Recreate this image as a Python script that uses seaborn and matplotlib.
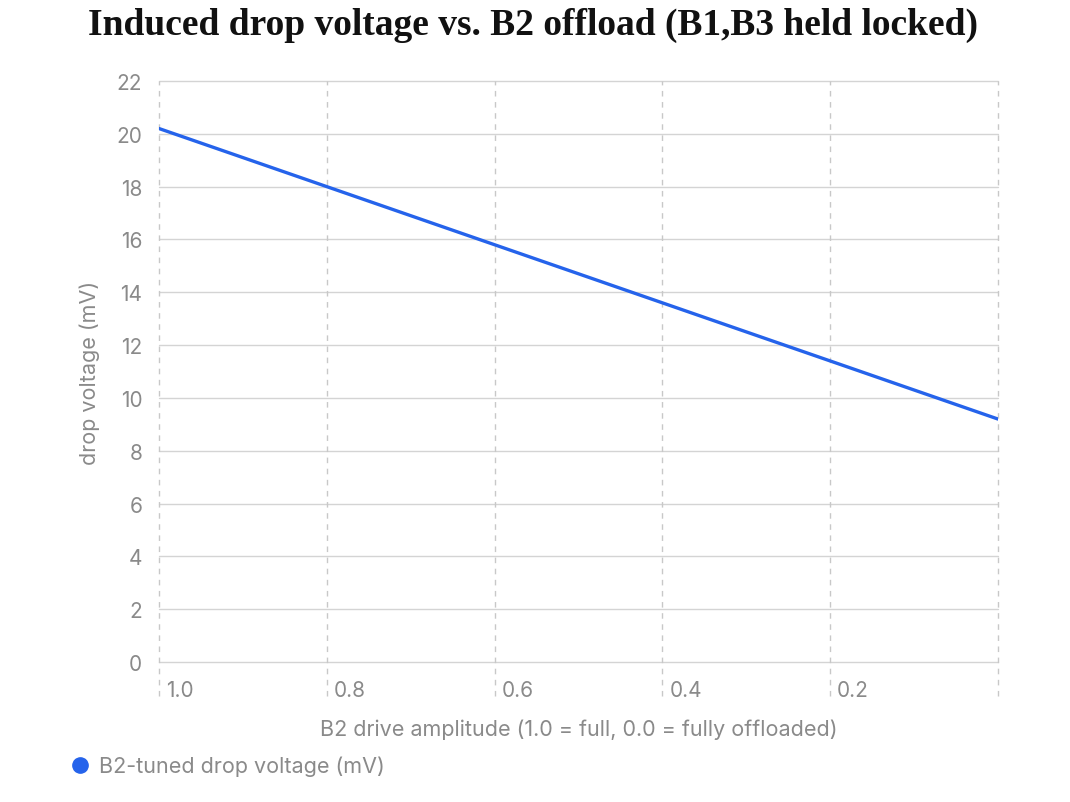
import matplotlib
matplotlib.use("Agg")
import matplotlib.pyplot as plt
import matplotlib.transforms as mtransforms
import seaborn as sns
import pandas as pd

# ---------------------------------------------------------------------
# Data
# ---------------------------------------------------------------------
amplitude = [1.0, 0.8, 0.6, 0.4, 0.2, 0.0]
drop_mv = [20.2, 18.0, 15.8, 13.6, 11.4, 9.2]
x_ticks = [1.0, 0.8, 0.6, 0.4, 0.2, 0.0]
x_tick_labels = ["1.0", "0.8", "0.6", "0.4", "0.2", ""]
y_ticks = list(range(0, 23, 2))

series_name = "B2-tuned drop voltage (mV)"
title = "Induced drop voltage vs. B2 offload (B1,B3 held locked)"
x_label = "B2 drive amplitude (1.0 = full, 0.0 = fully offloaded)"
y_label = "drop voltage (mV)"

LINE_BLUE = "#2563EB"
TEXT_GRAY = "#8a8a8a"
GRID_H = "#d4d4d4"
GRID_V = "#c8c8c8"

df = pd.DataFrame({"amplitude": amplitude, "drop": drop_mv})

sns.set_style("white")
plt.rcParams["font.family"] = ["Inter", "DejaVu Sans"]

fig = plt.figure(figsize=(10.7, 8.03), dpi=100)
ax = fig.add_axes([0.1486, 0.1743, 0.7841, 0.7236])

sns.lineplot(data=df, x="amplitude", y="drop", ax=ax, color=LINE_BLUE,
             linewidth=2.4, label=series_name, legend=False, zorder=3)

ax.set_xlim(1.0, 0.0)
ax.set_ylim(0, 22)
ax.set_yticks(y_ticks)
ax.set_yticklabels([str(v) for v in y_ticks])
for s in ax.spines.values():
    s.set_visible(False)

# horizontal solid grid
ax.yaxis.grid(True, color=GRID_H, linewidth=1.0)
for gl in ax.get_ygridlines():
    gl.set_clip_on(False)
ax.tick_params(axis="y", length=7, color=GRID_H, labelcolor=TEXT_GRAY,
               labelsize=15, pad=5)

# vertical dashed grid running down past the axis
for xv in x_ticks:
    ax.axvline(xv, ymin=-0.058, ymax=1.0, color=GRID_V, linestyle=(0, (4, 4)),
               linewidth=1.0, clip_on=False, zorder=1)

ax.set_xticks(x_ticks)
ax.set_xticklabels(x_tick_labels)
ax.tick_params(axis="x", length=0, labelcolor=TEXT_GRAY, labelsize=15, pad=13)
offset = mtransforms.ScaledTranslation(7 / 100, 0, fig.dpi_scale_trans)
for lbl in ax.get_xticklabels():
    lbl.set_horizontalalignment("left")
    lbl.set_transform(lbl.get_transform() + offset)

ax.set_xlabel(x_label, color=TEXT_GRAY, fontsize=15.5, labelpad=13)
ax.set_ylabel(y_label, color=TEXT_GRAY, fontsize=15.5, labelpad=12)

fig.suptitle(title, x=0.498, y=0.99, fontsize=27, fontweight="bold",
             family=["Liberation Serif", "DejaVu Serif"], color="#111111")

# legend at bottom left
fig.legend(handles=[plt.Line2D([], [], marker="o", linestyle="none",
                               markersize=11, color=LINE_BLUE)],
           labels=[series_name], loc="center left",
           bbox_to_anchor=(0.049, 0.045), frameon=False, fontsize=15.5,
           labelcolor=TEXT_GRAY, handletextpad=0.45, handlelength=0.8)

fig.savefig("out.png", dpi=100)
